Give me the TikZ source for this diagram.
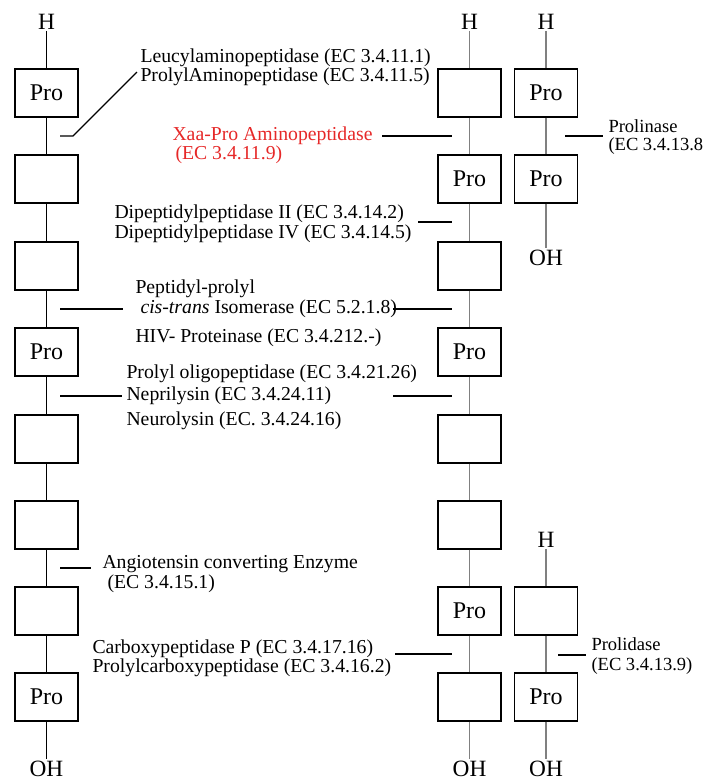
\documentclass[tikz,border=0pt]{standalone}
\usepackage{fontspec}
\setmainfont{Liberation Serif}
\definecolor{xaared}{RGB}{230,40,40}
\begin{document}
\tikzset{every picture/.style={line width=0.75pt}}

\begin{tikzpicture}[x=0.75pt,y=0.75pt,yscale=-1,
  res/.style={draw,line width=1pt,minimum width=47.25pt,minimum height=36pt,inner sep=0pt,font=\fontsize{18}{20}\selectfont},
  term/.style={inner sep=1pt,font=\fontsize{17.5}{20}\selectfont},
  lbl/.style={anchor=base west,inner sep=0pt,font=\fontsize{14.8}{16}\selectfont},
  small/.style={anchor=base west,inner sep=0pt,font=\fontsize{13.9}{16}\selectfont},
  bond/.style={line width=1pt},
  gbond/.style={line width=0.9pt,color=gray},
  tick/.style={line width=0.9pt}]
  \useasboundingbox (0,0) rectangle (719,782); %set diagram size 719 x 782

  %Shape: Rectangle [left chain]
  \node[term] (lH) at (46.5,21.5) {H};
  \node[res] (L1) at (46.5,93) {Pro};
  \node[res] (L2) at (46.5,179) {};
  \node[res] (L3) at (46.5,266) {};
  \node[res] (L4) at (46.5,352) {Pro};
  \node[res] (L5) at (46.5,439) {};
  \node[res] (L6) at (46.5,525) {};
  \node[res] (L7) at (46.5,611) {};
  \node[res] (L8) at (46.5,697) {Pro};
  \node[term] (lOH) at (46.5,769) {OH};
  %Straight Lines
  \draw[bond] (lH) -- (L1) -- (L2) -- (L3) -- (L4) -- (L5) -- (L6) -- (L7) -- (L8) -- (lOH);

  %Shape: Rectangle [middle chain]
  \node[term] (mH) at (469.5,21.5) {H};
  \node[res] (M1) at (469.5,93) {};
  \node[res] (M2) at (469.5,179) {Pro};
  \node[res] (M3) at (469.5,266) {};
  \node[res] (M4) at (469.5,352) {Pro};
  \node[res] (M5) at (469.5,439) {};
  \node[res] (M6) at (469.5,525) {};
  \node[res] (M7) at (469.5,611) {Pro};
  \node[res] (M8) at (469.5,697) {};
  \node[term] (mOH) at (469.5,769) {OH};
  %Straight Lines
  \draw[gbond] (mH) -- (M1) -- (M2) -- (M3) -- (M4) -- (M5) -- (M6) -- (M7) -- (M8) -- (mOH);

  %Shape: Rectangle [dipeptide, top]
  \node[term] (rH) at (546,21.5) {H};
  \node[res] (R1) at (546,93) {Pro};
  \node[res] (R2) at (546,179) {Pro};
  \node[term] (rOH) at (546,257.5) {OH};
  \draw[gbond] (rH) -- (R1) -- (R2) -- (rOH);

  %Shape: Rectangle [dipeptide, bottom]
  \node[term] (sH) at (546,539.5) {H};
  \node[res] (S1) at (546,611) {};
  \node[res] (S2) at (546,697) {Pro};
  \node[term] (sOH) at (546,769) {OH};
  \draw[gbond] (sH) -- (S1) -- (S2) -- (sOH);

  % Text Node
  \node[lbl] (leu) at (140,62) {Leucylaminopeptidase (EC 3.4.11.1)};
  \node[lbl] (pap) at (140,81) {ProlylAminopeptidase (EC 3.4.11.5)};
  % Text Node
  \node[lbl,text=xaared] (xaa) at (172,140) {Xaa-Pro Aminopeptidase};
  \node[lbl,text=xaared] (xaaec) at (175,159) {(EC 3.4.11.9)};
  % Text Node
  \node[lbl] (dp2) at (114,218) {Dipeptidylpeptidase II (EC 3.4.14.2)};
  \node[lbl] (dp4) at (114,238) {Dipeptidylpeptidase IV (EC 3.4.14.5)};
  % Text Node
  \node[lbl] (ppi) at (135,293) {Peptidyl-prolyl};
  \node[lbl] (cis) at (140,313) {\textit{cis-trans} Isomerase (EC 5.2.1.8)};
  \node[lbl] (hiv) at (135,342) {HIV- Proteinase (EC 3.4.212.-)};
  % Text Node
  \node[lbl] (pop) at (126,378) {Prolyl oligopeptidase (EC 3.4.21.26)};
  \node[lbl] (nep) at (126,400) {Neprilysin (EC 3.4.24.11)};
  \node[lbl] (neu) at (126,425) {Neurolysin (EC. 3.4.24.16)};
  % Text Node
  \node[lbl] (ace) at (102,568) {Angiotensin converting Enzyme};
  \node[lbl] (aceec) at (107,588) {(EC 3.4.15.1)};
  % Text Node
  \node[lbl] (cpp) at (92,653) {Carboxypeptidase P (EC 3.4.17.16)};
  \node[lbl] (pcp) at (92,672) {Prolylcarboxypeptidase (EC 3.4.16.2)};
  % Text Node
  \node[small] (pln) at (608,132) {Prolinase};
  \node[small] (plnec) at (608,150) {(EC 3.4.13.8};
  \node[small] (pld) at (591,650) {Prolidase};
  \node[small] (pldec) at (591,670) {(EC 3.4.13.9)};

  %Straight Lines [cleavage sites]
  \coordinate (leuA) at (60,136);
  \coordinate (leuB) at (73,136);
  \coordinate (leuC) at (137,72);
  \draw[tick] (leuA) -- (leuB) -- (leuC);
  \coordinate (xaaA) at (382,136);
  \coordinate (xaaB) at (452,136);
  \draw[tick] (xaaA) -- (xaaB);
  \coordinate (plnA) at (565,136);
  \coordinate (plnB) at (603,136);
  \draw[tick] (plnA) -- (plnB);
  \coordinate (dppA) at (418,222);
  \coordinate (dppB) at (452,222);
  \draw[tick] (dppA) -- (dppB);
  \coordinate (cisA) at (60,309);
  \coordinate (cisB) at (123,309);
  \coordinate (cisC) at (393,309);
  \coordinate (cisD) at (452,309);
  \draw[tick] (cisA) -- (cisB);
  \draw[tick] (cisC) -- (cisD);
  \coordinate (nepA) at (60,396);
  \coordinate (nepB) at (122,396);
  \coordinate (nepC) at (393,396);
  \coordinate (nepD) at (452,396);
  \draw[tick] (nepA) -- (nepB);
  \draw[tick] (nepC) -- (nepD);
  \coordinate (aceA) at (60,568);
  \coordinate (aceB) at (91,568);
  \draw[tick] (aceA) -- (aceB);
  \coordinate (cppA) at (395,654);
  \coordinate (cppB) at (452,654);
  \draw[tick] (cppA) -- (cppB);
  \coordinate (pldA) at (558,655);
  \coordinate (pldB) at (586,655);
  \draw[tick] (pldA) -- (pldB);

\end{tikzpicture}
\end{document}
